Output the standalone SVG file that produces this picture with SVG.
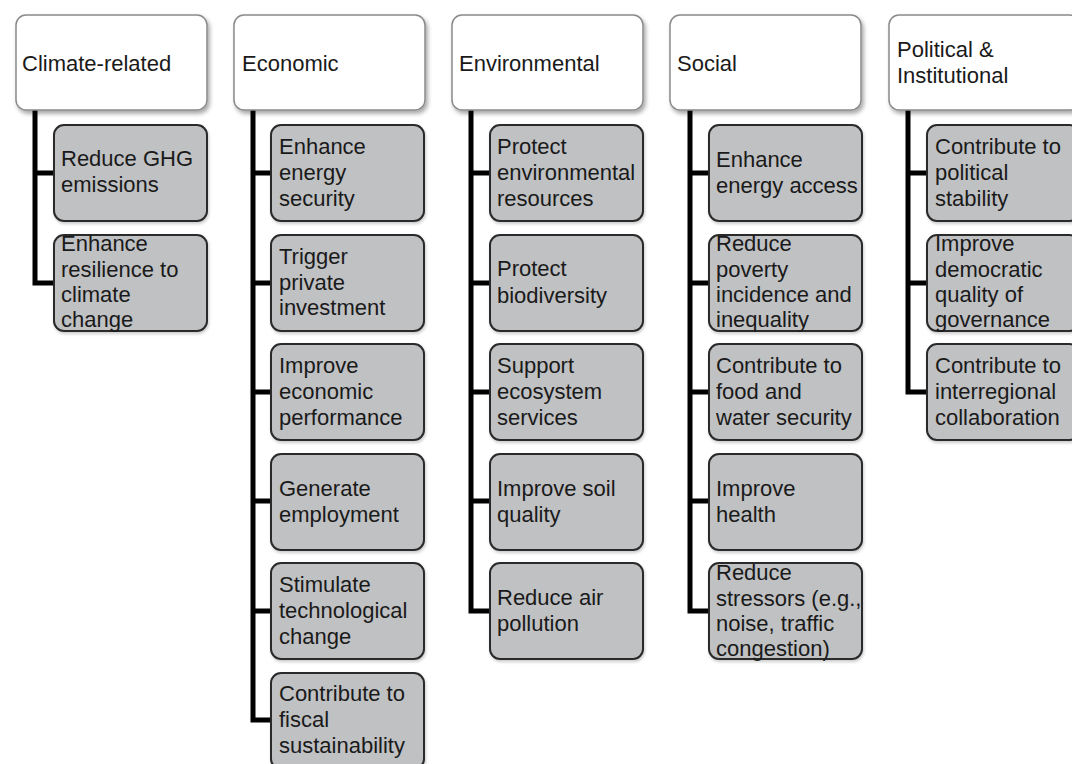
<svg xmlns="http://www.w3.org/2000/svg" width="1072" height="764" viewBox="0 0 1072 764">
  <defs>
    <filter id="hdrShadow" x="-10%" y="-10%" width="125%" height="130%">
      <feDropShadow dx="2" dy="3" stdDeviation="2" flood-color="#000" flood-opacity="0.35"/>
    </filter>
    <filter id="itemShadow" x="-10%" y="-10%" width="125%" height="130%">
      <feDropShadow dx="1" dy="2" stdDeviation="1.5" flood-color="#000" flood-opacity="0.2"/>
    </filter>
  </defs>
  <style>
    .hdr { fill: #ffffff; stroke: #8a8a8a; stroke-width: 1.5; filter: url(#hdrShadow); }
    .item { fill: #c0c1c3; stroke: #2b2b2b; stroke-width: 2; filter: url(#itemShadow); }
    .link { fill: none; stroke: #000; stroke-width: 5; stroke-linejoin: miter; }
    text { font-family: "Liberation Sans", Arial, sans-serif; font-size: 22px; fill: #1a1a1a; }
  </style>
  <rect width="1072" height="764" fill="#ffffff"/>

  <!-- tree connectors: one trunk per column with a stub to each item -->
  <g id="connectors">
    <path class="link" d="M35 110 V283 H54 M35 173 H54"/>
    <path class="link" d="M253 110 V720 H271 M253 173 H271 M253 283 H271 M253 392 H271 M253 501 H271 M253 611 H271"/>
    <path class="link" d="M471 110 V611 H490 M471 173 H490 M471 283 H490 M471 392 H490 M471 501 H490"/>
    <path class="link" d="M690 110 V611 H709 M690 173 H709 M690 283 H709 M690 392 H709 M690 501 H709"/>
    <path class="link" d="M908 110 V392 H927 M908 173 H927 M908 283 H927"/>
  </g>

  <!-- Climate-related -->
  <g id="climate">
    <rect class="hdr" x="16" y="15" width="191" height="95" rx="10"/>
    <text x="22" y="71">Climate-related</text>
  </g>
  <g id="climate-1">
    <rect class="item" x="54" y="125" width="153" height="96" rx="10"/>
    <text x="61" y="166">Reduce GHG</text><text x="61" y="192">emissions</text>
  </g>
  <g id="climate-2">
    <rect class="item" x="54" y="235" width="153" height="96" rx="10"/>
    <text x="61" y="251">Enhance</text><text x="61" y="277">resilience to</text><text x="61" y="302">climate</text><text x="61" y="327">change</text>
  </g>

  <!-- Economic -->
  <g id="economic">
    <rect class="hdr" x="234" y="15" width="191" height="95" rx="10"/>
    <text x="242" y="71">Economic</text>
  </g>
  <g id="economic-1">
    <rect class="item" x="271" y="125" width="153" height="96" rx="10"/>
    <text x="279" y="154">Enhance</text><text x="279" y="180">energy</text><text x="279" y="206">security</text>
  </g>
  <g id="economic-2">
    <rect class="item" x="271" y="235" width="153" height="96" rx="10"/>
    <text x="279" y="264">Trigger</text><text x="279" y="290">private</text><text x="279" y="315">investment</text>
  </g>
  <g id="economic-3">
    <rect class="item" x="271" y="344" width="153" height="96" rx="10"/>
    <text x="279" y="373">Improve</text><text x="279" y="399">economic</text><text x="279" y="425">performance</text>
  </g>
  <g id="economic-4">
    <rect class="item" x="271" y="454" width="153" height="96" rx="10"/>
    <text x="279" y="496">Generate</text><text x="279" y="522">employment</text>
  </g>
  <g id="economic-5">
    <rect class="item" x="271" y="563" width="153" height="96" rx="10"/>
    <text x="279" y="592">Stimulate</text><text x="279" y="618">technological</text><text x="279" y="644">change</text>
  </g>
  <g id="economic-6">
    <rect class="item" x="271" y="673" width="153" height="96" rx="10"/>
    <text x="279" y="701">Contribute to</text><text x="279" y="727">fiscal</text><text x="279" y="753">sustainability</text>
  </g>

  <!-- Environmental -->
  <g id="environmental">
    <rect class="hdr" x="452" y="15" width="191" height="95" rx="10"/>
    <text x="459" y="71">Environmental</text>
  </g>
  <g id="environmental-1">
    <rect class="item" x="490" y="125" width="153" height="96" rx="10"/>
    <text x="497" y="154">Protect</text><text x="497" y="180">environmental</text><text x="497" y="206">resources</text>
  </g>
  <g id="environmental-2">
    <rect class="item" x="490" y="235" width="153" height="96" rx="10"/>
    <text x="497" y="276">Protect</text><text x="497" y="303">biodiversity</text>
  </g>
  <g id="environmental-3">
    <rect class="item" x="490" y="344" width="153" height="96" rx="10"/>
    <text x="497" y="373">Support</text><text x="497" y="399">ecosystem</text><text x="497" y="425">services</text>
  </g>
  <g id="environmental-4">
    <rect class="item" x="490" y="454" width="153" height="96" rx="10"/>
    <text x="497" y="496">Improve soil</text><text x="497" y="522">quality</text>
  </g>
  <g id="environmental-5">
    <rect class="item" x="490" y="563" width="153" height="96" rx="10"/>
    <text x="497" y="605">Reduce air</text><text x="497" y="631">pollution</text>
  </g>

  <!-- Social -->
  <g id="social">
    <rect class="hdr" x="670" y="15" width="191" height="95" rx="10"/>
    <text x="677" y="71">Social</text>
  </g>
  <g id="social-1">
    <rect class="item" x="709" y="125" width="153" height="96" rx="10"/>
    <text x="716" y="167">Enhance</text><text x="716" y="193">energy access</text>
  </g>
  <g id="social-2">
    <rect class="item" x="709" y="235" width="153" height="96" rx="10"/>
    <text x="716" y="251">Reduce</text><text x="716" y="277">poverty</text><text x="716" y="302">incidence and</text><text x="716" y="327">inequality</text>
  </g>
  <g id="social-3">
    <rect class="item" x="709" y="344" width="153" height="96" rx="10"/>
    <text x="716" y="373">Contribute to</text><text x="716" y="399">food and</text><text x="716" y="425">water security</text>
  </g>
  <g id="social-4">
    <rect class="item" x="709" y="454" width="153" height="96" rx="10"/>
    <text x="716" y="496">Improve</text><text x="716" y="522">health</text>
  </g>
  <g id="social-5">
    <rect class="item" x="709" y="563" width="153" height="96" rx="10"/>
    <text x="716" y="580">Reduce</text><text x="716" y="606">stressors (e.g.,</text><text x="716" y="631">noise, traffic</text><text x="716" y="656">congestion)</text>
  </g>

  <!-- Political & Institutional -->
  <g id="political">
    <rect class="hdr" x="889" y="15" width="191" height="95" rx="10"/>
    <text x="897" y="57">Political &amp;</text><text x="897" y="83">Institutional</text>
  </g>
  <g id="political-1">
    <rect class="item" x="927" y="125" width="153" height="96" rx="10"/>
    <text x="935" y="154">Contribute to</text><text x="935" y="180">political</text><text x="935" y="206">stability</text>
  </g>
  <g id="political-2">
    <rect class="item" x="927" y="235" width="153" height="96" rx="10"/>
    <text x="935" y="251">Improve</text><text x="935" y="277">democratic</text><text x="935" y="302">quality of</text><text x="935" y="327">governance</text>
  </g>
  <g id="political-3">
    <rect class="item" x="927" y="344" width="153" height="96" rx="10"/>
    <text x="935" y="373">Contribute to</text><text x="935" y="399">interregional</text><text x="935" y="425">collaboration</text>
  </g>
</svg>
